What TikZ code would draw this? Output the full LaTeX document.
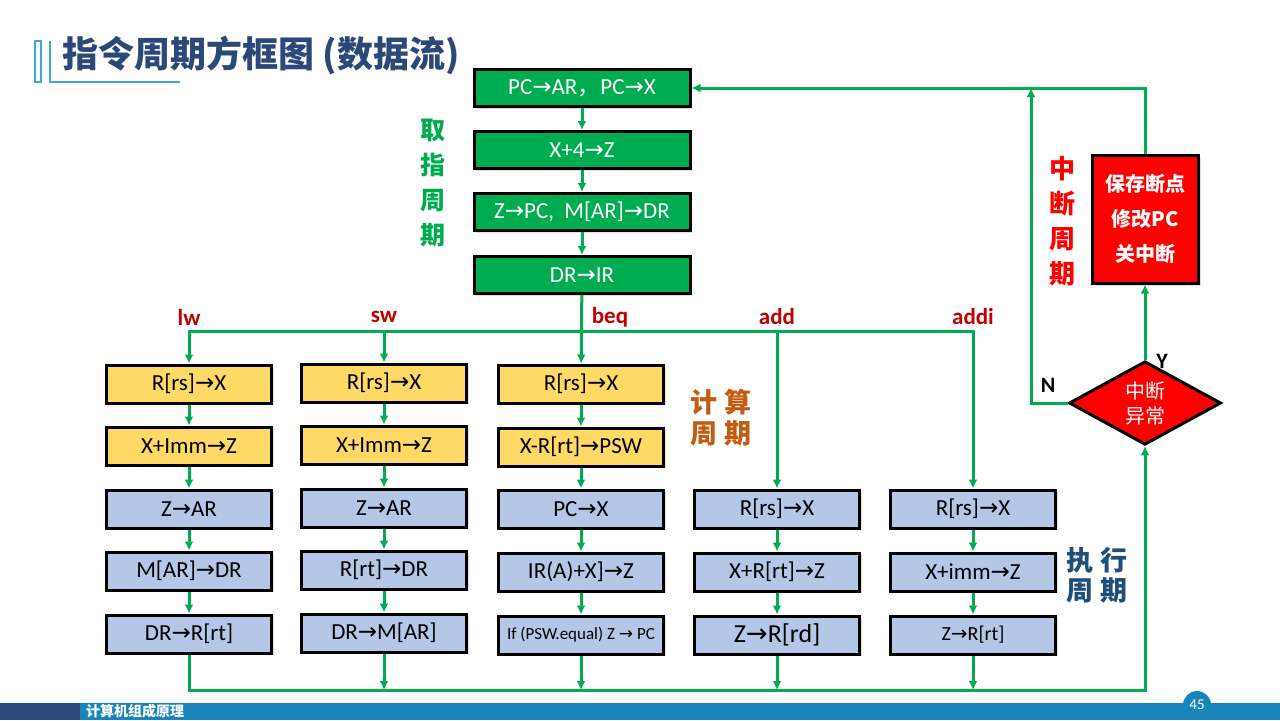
\documentclass[tikz,border=0pt]{standalone}
\usepackage{fontspec}
\setmainfont{Carlito}
\newfontfamily\cjk{Noto Sans CJK SC}
\newfontfamily\arrowfont{DejaVu Sans}
\usetikzlibrary{arrows.meta,shapes.geometric,shadows}

\definecolor{flowgreen}{RGB}{0,172,80}
\definecolor{boxyellow}{RGB}{255,217,102}
\definecolor{boxblue}{RGB}{180,199,231}
\definecolor{titleblue}{RGB}{44,72,120}
\definecolor{labelred}{RGB}{192,0,0}
\definecolor{calcorange}{RGB}{197,90,17}
\definecolor{execblue}{RGB}{31,78,121}
\definecolor{barblue}{RGB}{24,132,186}
\definecolor{bardark}{RGB}{46,74,122}
\definecolor{lineblue}{RGB}{70,165,215}

\newcommand{\ra}{{\arrowfont\char"2192}}

\begin{document}
\begin{tikzpicture}[x=0.5pt,y=-0.5pt,
  opbox/.style={draw=black, line width=1.5pt, inner sep=0pt, font=\fontsize{11.5}{13}\selectfont,
    drop shadow={opacity=0.25,shadow xshift=1pt,shadow yshift=-1pt}},
  fetchbox/.style={opbox, fill=flowgreen, text=white, minimum width=108pt, minimum height=18.5pt},
  calcbox/.style={opbox, fill=boxyellow, minimum width=82.5pt, minimum height=19pt},
  execbox/.style={opbox, fill=boxblue, minimum width=82.5pt, minimum height=19pt},
  flow/.style={flowgreen, line width=1.5pt},
  tip/.style={-{Latex[length=4.5pt,width=4.5pt]}},
  opname/.style={labelred, font=\bfseries\fontsize{11.5}{13}\selectfont},
  cycle/.style={align=center, font=\cjk\bfseries}]

\useasboundingbox (0,0) rectangle (1280,720);

% title
\draw[lineblue, line width=1pt] (35,41) rectangle (41,82);
\draw[lineblue, line width=1pt] (50,41) -- (50,82) -- (180,82);
\node[anchor=west, titleblue, inner sep=0pt, font=\cjk\bfseries\fontsize{18}{20}\selectfont] (title) at (62,55) {指令周期方框图 (数据流)};

% fetch cycle
\node[fetchbox] (pc) at (582,88) {PC\ra AR{\cjk ，}PC\ra X};
\node[fetchbox] (xz) at (582,150) {X+4\ra Z};
\node[fetchbox] (mem) at (582,212) {Z\ra PC,~~M[AR]\ra DR};
\node[fetchbox] (ir) at (582,275) {DR\ra IR};
\node[cycle, flowgreen, font=\cjk\bfseries\fontsize{12.5}{17.5}\selectfont] (fetchlbl) at (433,183) {取\\指\\周\\期};

\draw[flow,tip] (pc) -- (xz);
\draw[flow,tip] (xz) -- (mem);
\draw[flow,tip] (mem) -- (ir);

% lw
\node[calcbox] (lw1) at (189,384) {R[rs]\ra X};
\node[calcbox] (lw2) at (189,446) {X+Imm\ra Z};
\node[execbox] (lw3) at (189,509) {Z\ra AR};
\node[execbox] (lw4) at (189,571) {M[AR]\ra DR};
\node[execbox] (lw5) at (189,634) {DR\ra R[rt]};

% sw
\node[calcbox] (sw1) at (384,383) {R[rs]\ra X};
\node[calcbox] (sw2) at (384,445) {X+Imm\ra Z};
\node[execbox] (sw3) at (384,508) {Z\ra AR};
\node[execbox] (sw4) at (384,570) {R[rt]\ra DR};
\node[execbox] (sw5) at (384,633) {DR\ra M[AR]};

% beq
\node[calcbox] (beq1) at (581,384) {R[rs]\ra X};
\node[calcbox] (beq2) at (581,447) {X-R[rt]\ra PSW};
\node[execbox] (beq3) at (581,509) {PC\ra X};
\node[execbox] (beq4) at (581,572) {IR(A)+X]\ra Z};
\node[execbox, font=\fontsize{8.5}{10}\selectfont] (beq5) at (581,635) {If (PSW.equal) Z \ra\ PC};

% add
\node[execbox] (add3) at (777,509) {R[rs]\ra X};
\node[execbox] (add4) at (777,572) {X+R[rt]\ra Z};
\node[execbox, font=\fontsize{13}{15}\selectfont] (add5) at (777,635) {Z\ra R[rd]};

% addi
\node[execbox] (addi3) at (973,509) {R[rs]\ra X};
\node[execbox] (addi4) at (973,572) {X+imm\ra Z};
\node[execbox, font=\fontsize{10}{12}\selectfont] (addi5) at (973,635) {Z\ra R[rt]};

% branch names
\node[opname] (lwlbl) at (189,317) {lw};
\node[opname] (swlbl) at (384,317) {sw};
\node[opname] (beqlbl) at (610,317) {beq};
\node[opname] (addlbl) at (777,317) {add};
\node[opname] (addilbl) at (973,317) {addi};

\node[cycle, calcorange, font=\cjk\bfseries\fontsize{13.5}{15.5}\selectfont] (calclbl) at (721,418) {计~算\\周~期};
\node[cycle, execblue, font=\cjk\bfseries\fontsize{13.5}{15}\selectfont] (execlbl) at (1097,575) {执~行\\周~期};

% split to the five instructions
\coordinate (split) at (582,331);
\draw[flow,tip] (ir) -- (beq1);
\draw[flow,tip] (split) -| (lw1.north);
\draw[flow,tip] (split) -| (sw1.north);
\draw[flow,tip] (split) -| (add3.north);
\draw[flow,tip] (split) -| (addi3.north);

\foreach \c in {lw,sw,beq}{
  \foreach \a/\b in {1/2,2/3,3/4,4/5}
    \draw[flow,tip] (\c\a) -- (\c\b);
}
\foreach \c in {add,addi}{
  \foreach \a/\b in {3/4,4/5}
    \draw[flow,tip] (\c\a) -- (\c\b);
}

% interrupt cycle
\node[diamond, draw=black, line width=1.5pt, fill=red, text=white, inner sep=0pt,
  minimum width=76pt, minimum height=36pt, align=center,
  font=\cjk\fontsize{10}{12.5}\selectfont] (chk) at (1145,403) {中断\\异常};
\node[draw=black, line width=1.5pt, fill=red, text=white, minimum width=53pt, minimum height=64pt,
  align=center, font=\cjk\bfseries\fontsize{10}{17.5}\selectfont,
  drop shadow={opacity=0.25,shadow xshift=1.5pt,shadow yshift=-1.5pt}] (save) at (1145,219) {保存断点\\修改PC\\关中断};
\node[cycle, red, font=\cjk\bfseries\fontsize{13}{17.5}\selectfont] (intlbl) at (1062,221) {中\\断\\周\\期};
\node[font=\bfseries\fontsize{11}{12}\selectfont] (ylbl) at (1162,361) {Y};
\node[font=\bfseries\fontsize{11}{12}\selectfont] (nlbl) at (1048,385) {N};

% merge back
\coordinate (merge) at (1145,690);
\coordinate (njoin) at (1031,88);
\draw[flow,tip] (lw5.south) |- (merge) -- (chk.south);
\foreach \c in {sw,beq,add,addi}
  \draw[flow,tip] (\c5.south) -- (\c5.south |- merge);
\draw[flow,tip] (chk.north) -- (save.south);
\draw[flow,tip] (save.north) |- (pc.east);
\draw[flow,tip] (chk.west) -| (njoin);

% footer
\fill[bardark] (0,703) rectangle (80,720);
\fill[barblue] (80,703) rectangle (1280,720);
\node[white, font=\cjk\bfseries\fontsize{7}{8}\selectfont] (course) at (135,711) {计算机组成原理};
\node[circle, fill=barblue, text=white, minimum size=14pt, inner sep=0pt, font=\fontsize{7.5}{9}\selectfont] (page) at (1197,705) {45};

\end{tikzpicture}
\end{document}
